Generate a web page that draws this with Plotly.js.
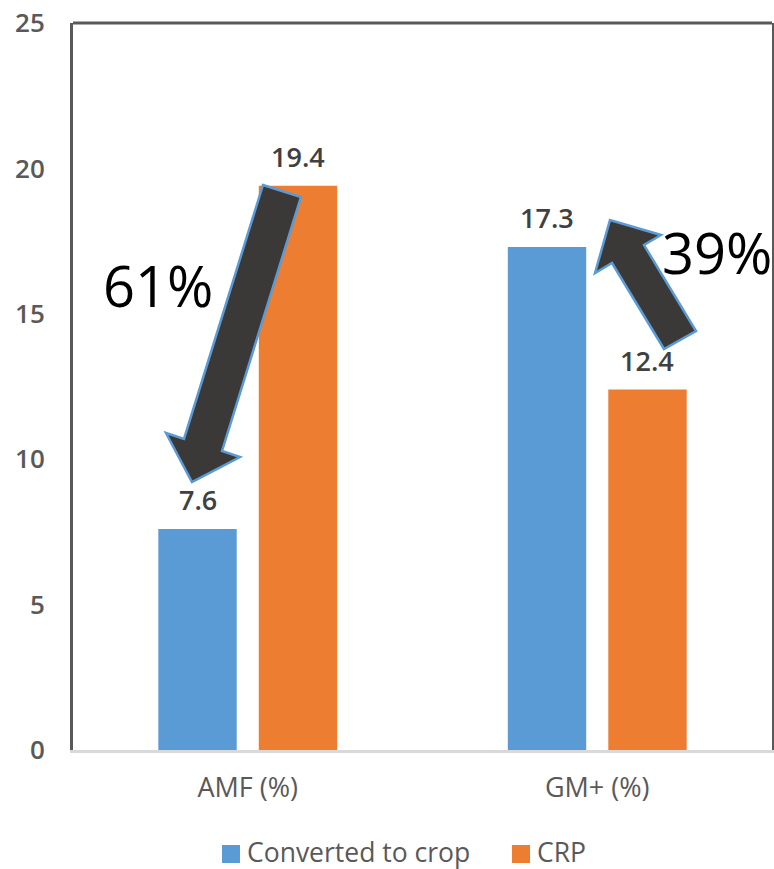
<!DOCTYPE html>
<html><head><meta charset="utf-8">
<script src="https://cdn.plot.ly/plotly-3.0.1.min.js"></script>
<style>html,body{margin:0;padding:0;background:#fff}#chart{width:774px;height:869px}</style>
</head><body><div id="chart"></div>
<script>
const categories = ["AMF (%)", "GM+ (%)"];
const seriesNames = ["Converted to crop", "CRP"];
const convertedToCrop = [7.6, 17.3];
const crp = [19.4, 12.4];
const changeLabels = ["61%", "39%"];
const yTicks = [0, 5, 10, 15, 20, 25];

const W = 774, H = 869, M = {l: 73, r: 2, t: 23, b: 119};
const pw = W - M.l - M.r, ph = H - M.t - M.b;
const px = x => (x - M.l) / pw, py = y => (H - M.b - y) / ph;
function poly(pts) { return 'M' + pts.map(p => px(p[0]).toFixed(4) + ',' + py(p[1]).toFixed(4)).join('L') + 'Z'; }

const bargap = 0.425, bargroupgap = 0.22;
const slot = pw / categories.length * (1 - bargap) / 2;
const offsets = [-slot / 2, slot / 2];

const colors = ['#5b9bd5', '#ed7d31'];
const series = [convertedToCrop, crp];

const traces = series.map((vals, k) => ({
  type: 'bar', name: seriesNames[k], x: categories, y: vals,
  marker: {color: colors[k]}, hoverinfo: 'skip', showlegend: false
}));

const annotations = [];
series.forEach((vals, k) => vals.forEach((v, j) => annotations.push({
  x: categories[j], y: v, xref: 'x', yref: 'y', xshift: offsets[k], yshift: 29,
  yanchor: 'middle', xanchor: 'center', showarrow: false, text: v.toFixed(1),
  font: {family: 'Open Sans', size: 27, color: '#404040', weight: 600}
})));
annotations.push({xref: 'paper', yref: 'paper', x: px(158), y: py(285), text: changeLabels[0],
  showarrow: false, xanchor: 'center', yanchor: 'middle', font: {family: 'Open Sans', size: 56, color: '#000'}});
annotations.push({xref: 'paper', yref: 'paper', x: px(717), y: py(252), text: changeLabels[1],
  showarrow: false, xanchor: 'center', yanchor: 'middle', font: {family: 'Open Sans', size: 56, color: '#000'}});

const arrowDown = [[263,185],[301,197],[222,451],[240,457],[192,482],[166,433],[184,439]];
const arrowUp = [[664,349],[612,263],[595,273],[610,220],[661,235],[644,245],[696,331]];

const shapes = [
  {type: 'line', xref: 'paper', yref: 'paper', x0: 0, x1: 1, y0: 1, y1: 1, line: {color: '#595959', width: 3}},
  {type: 'path', xref: 'paper', yref: 'paper', path: poly(arrowDown), fillcolor: '#3b3838', line: {color: '#5b9bd5', width: 2.5}},
  {type: 'path', xref: 'paper', yref: 'paper', path: poly(arrowUp), fillcolor: '#3b3838', line: {color: '#5b9bd5', width: 2.5}}
];

// manual legend (square swatches + labels)
const legendLeft = [222, 512], legendY = 852, sw = 18;
seriesNames.forEach((name, k) => {
  shapes.push({type: 'rect', xref: 'paper', yref: 'paper',
    x0: px(legendLeft[k]), x1: px(legendLeft[k] + sw), y0: py(legendY + 2 + sw / 2), y1: py(legendY + 2 - sw / 2),
    fillcolor: colors[k], line: {width: 0}});
  annotations.push({xref: 'paper', yref: 'paper', x: px(legendLeft[k] + sw + 6), y: py(legendY),
    xanchor: 'left', yanchor: 'middle', showarrow: false, text: name, borderpad: 0,
    font: {family: 'Open Sans', size: 26.5, color: '#595959'}});
});

const layout = {
  width: W, height: H, margin: {l: M.l, r: M.r, t: M.t, b: M.b, pad: 0, autoexpand: false},
  paper_bgcolor: '#fff', plot_bgcolor: '#fff',
  barmode: 'group', bargap: bargap, bargroupgap: bargroupgap,
  font: {family: 'Open Sans', color: '#595959'},
  xaxis: {type: 'category', showline: true, linecolor: '#d9d9d9', linewidth: 3, ticks: '',
    tickfont: {size: 27, color: '#595959'}, ticklabelstandoff: 12, showgrid: false, zeroline: false, fixedrange: true},
  yaxis: {range: [0, 25], tickvals: yTicks, ticks: '', showline: true, linecolor: '#595959', linewidth: 3,
    mirror: true, showgrid: false, zeroline: false, tickfont: {size: 26, color: '#595959', weight: 600},
    ticklabelstandoff: 20, fixedrange: true},
  showlegend: false,
  shapes: shapes, annotations: annotations
};

Plotly.newPlot('chart', traces, layout, {staticPlot: true, displayModeBar: false});
</script></body></html>
